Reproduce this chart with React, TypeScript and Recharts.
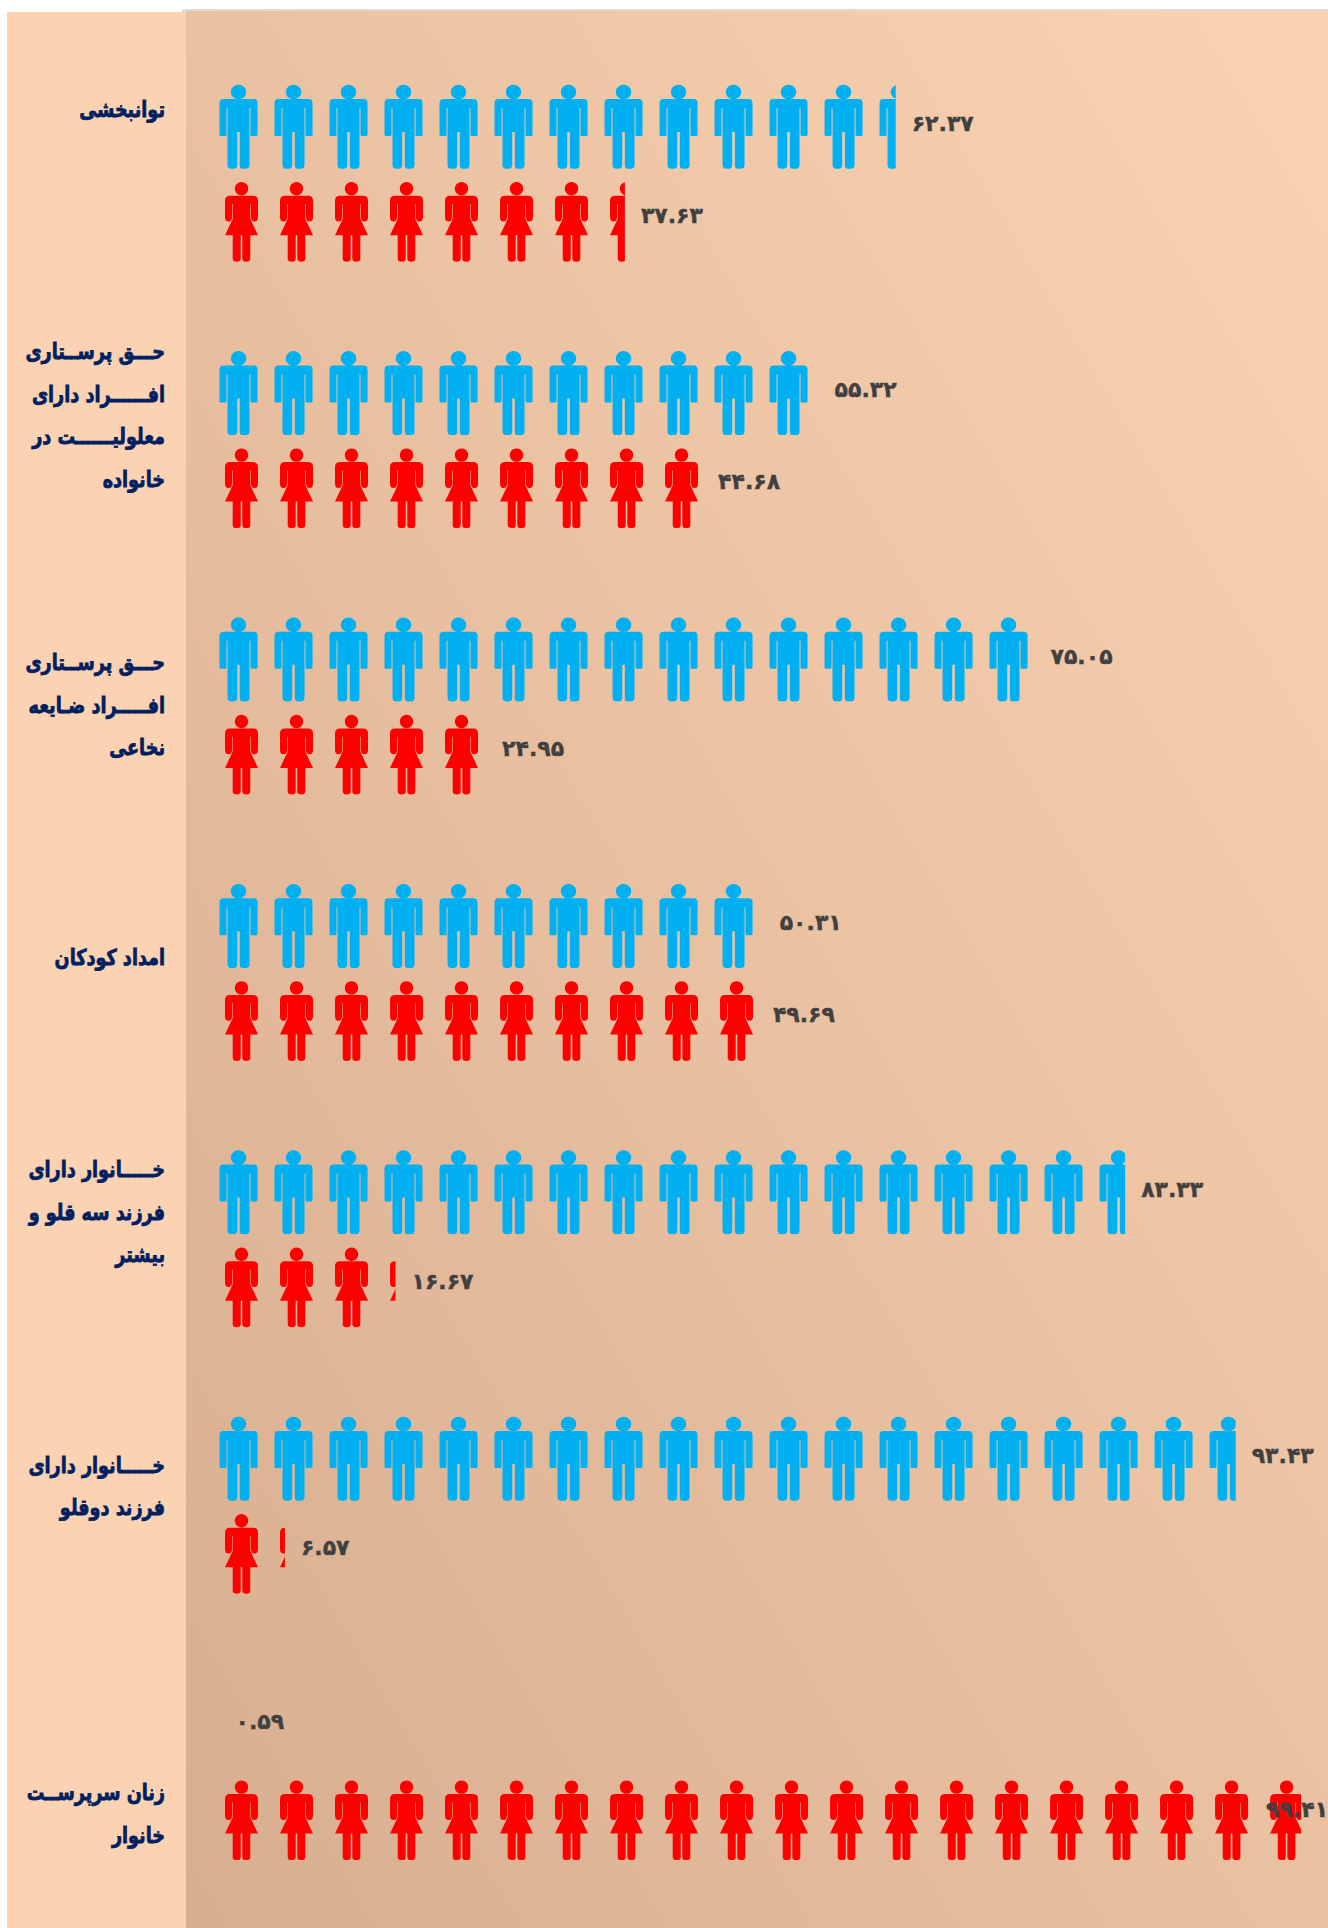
import { Bar, BarChart, LabelList, XAxis, YAxis } from "recharts";

// Category labels, line breaks as in the source slide
const categories = [
  "توانبخشی",
  "حـــق پرســتاری\nافــــــراد دارای\nمعلولیــــــت در\nخانواده",
  "حـــق پرســتاری\nافـــــراد ضـایعه\nنخاعی",
  "امداد کودکان",
  "خـــــانوار دارای\nفرزند سه قلو و\nبیشتر",
  "خـــــانوار دارای\nفرزند دوقلو",
  "زنان  سرپرســت\nخانوار"
];
const menValues = [62.37, 55.32, 75.05, 50.31, 83.33, 93.43, 0.59];
const womenValues = [37.63, 44.68, 24.95, 49.69, 16.67, 6.57, 99.41];

const data = categories.map((name, i) => ({ name, men: menValues[i], women: womenValues[i] }));

// One pictogram stands for about 5 percent
const ICON_VALUE = 5.025;
const MEN_COLOR = "#00b0f0";
const WOMEN_COLOR = "#ff0000";
const NAVY = "#002060";
const LABEL_GRAY = "#404040";

// The category text sits off-centre on some rows in the original
const tickShift = [-64, -24.6, -1, -15, -27, -19, 42];

const MAN_PATH =
  "M19 0.7a7.7 7.3 0 1 1 -0.01 0z M4 15H34Q38 15 38 19V50.5Q38 52 36.5 52H32.5Q31 52 31 50.5V24H30V81Q30 84.7 26 84.7H23Q20.3 84.7 20.3 81V48H17.7V81Q17.7 84.7 14 84.7H12Q8 84.7 8 81V24H7V50.5Q7 52 5.5 52H1.5Q0 52 0 50.5V19Q0 15 4 15z";
const WOMAN_PATH =
  "M16.5 0a6.7 6.7 0 1 1 -0.01 0z M5 13.7H28Q33 13.7 33 18.5V35Q33 39.5 29.5 39.5Q26 39.5 26 35V22H25.4V37L33 53.2H25.3V76.5Q25.3 79.7 21.3 79.7Q17.3 79.7 17.3 76.5V53.2H15.7V76.5Q15.7 79.7 11.7 79.7Q7.7 79.7 7.7 76.5V53.2H0L7.6 37V22H7V35Q7 39.5 3.5 39.5Q0 39.5 0 35V18.5Q0 13.7 5 13.7z";

function toPersianDigits(v: number) {
  return v.toFixed(2).replace(/[0-9]/g, (d) => "۰۱۲۳۴۵۶۷۸۹"[Number(d)]);
}

// Draws a row of people, cut off where the bar ends
function PersonBar(props: any) {
  const { x, y, width, height, value, index, gender } = props;
  if (!width || !value) return null;
  const pitch = (width / value) * ICON_VALUE;
  const count = Math.ceil(width / pitch);
  const isMan = gender === "men";
  const clipId = `clip-${gender}-${index}`;
  const icons = [];
  for (let i = 0; i < count; i++) {
    icons.push(
      <path
        key={i}
        d={isMan ? MAN_PATH : WOMAN_PATH}
        fill={isMan ? MEN_COLOR : WOMEN_COLOR}
        transform={`translate(${x + (isMan ? 6.5 : 12) + i * pitch} ${y + (isMan ? 0 : 2.5)})`}
      />
    );
  }
  return (
    <g>
      <clipPath id={clipId}>
        <rect x={x} y={y} width={width} height={height} />
      </clipPath>
      <g clipPath={`url(#${clipId})`}>{icons}</g>
    </g>
  );
}

function CategoryTick({ x, y, payload, index }: any) {
  const lines = String(payload.value).split("\n");
  const lineGap = 42.5;
  const top = y + tickShift[index] - ((lines.length - 1) * lineGap) / 2;
  return (
    <g transform="translate(165 0) scale(0.8 1)">
      {lines.map((line, i) => (
        <text
          key={i}
          x={0}
          y={top + i * lineGap}
          dy={7}
          direction="rtl"
          textAnchor="start"
          fontFamily="DejaVu Sans"
          fontWeight="bold"
          fontSize={22}
          stroke={NAVY}
          strokeWidth={0.8}
          fill={NAVY}
        >
          {line}
        </text>
      ))}
    </g>
  );
}

function ValueLabel({ x, y, width, height, value, lift }: any) {
  const end = x + width + 16;
  const overflow = end > 1266;
  return (
    <text
      x={overflow ? 1266 : end}
      y={y + height / 2 - lift - (overflow ? 4 : 0)}
      dy={8}
      fontFamily="DejaVu Sans"
      fontWeight="bold"
      fontSize={22}
      stroke={LABEL_GRAY}
      strokeWidth={0.4}
      fill={LABEL_GRAY}
    >
      {toPersianDigits(value)}
    </text>
  );
}

export default function App() {
  return (
    <div style={{ position: "absolute", left: 0, top: 0, width: 1328, height: 1928, background: "#ffffff", overflow: "hidden" }}>
      <div style={{ position: "absolute", left: 7, top: 12, width: 179, height: 1916, background: "#fbd3b3" }} />
      <div style={{ position: "absolute", left: 182, top: 9, width: 1146, height: 3, background: "#dcdcdc" }} />
      <div
        style={{
          position: "absolute",
          left: 186,
          top: 11,
          width: 1142,
          height: 1917,
          background: "linear-gradient(to top right, #d8ae90, #fbd3b2)"
        }}
      />
      <div style={{ position: "absolute", left: 0, top: 0 }}>
        <BarChart
          width={1328}
          height={1928}
          data={data}
          layout="vertical"
          barSize={85}
          barGap={10.5}
          margin={{ top: 41, right: 20.4, bottom: 22.2, left: 13 }}
        >
          <XAxis type="number" domain={[0, 100]} hide />
          <YAxis
            type="category"
            dataKey="name"
            width={200}
            interval={0}
            axisLine={false}
            tickLine={false}
            tick={<CategoryTick />}
          />
          <Bar dataKey="men" isAnimationActive={false} shape={<PersonBar gender="men" />}>
            <LabelList dataKey="men" content={<ValueLabel lift={3.5} />} />
          </Bar>
          <Bar dataKey="women" isAnimationActive={false} shape={<PersonBar gender="women" />}>
            <LabelList dataKey="women" content={<ValueLabel lift={7} />} />
          </Bar>
        </BarChart>
      </div>
    </div>
  );
}
